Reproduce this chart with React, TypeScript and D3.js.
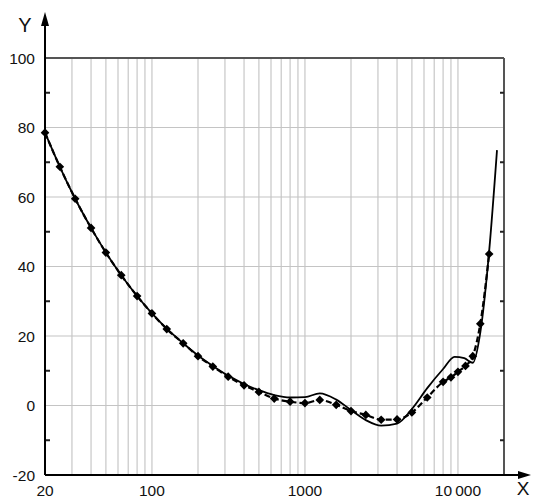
import React from "react";
import * as d3 from "d3";

// solid curve: frequency (Hz) and level
const solidFreq = [20, 25, 31.5, 40, 50, 63, 80, 100, 125, 160, 200, 250, 315, 400, 500, 630, 800, 1000, 1250, 1600, 2000, 2500, 3150, 4000, 5000, 6300, 8000, 9500, 11000, 12500, 14000, 16000, 18000];
const solidVal = [78.5, 68.7, 59.5, 51.1, 44.0, 37.5, 31.5, 26.5, 22.1, 17.9, 14.4, 11.4, 8.6, 6.2, 4.4, 3.0, 2.3, 2.4, 3.5, 1.7, -1.3, -4.2, -5.8, -5.2, -1.0, 5.0, 10.5, 14.0, 13.6, 12.3, 21, 44.5, 73.5];

// dashed curve with diamond markers
const markFreq = [20, 25, 31.5, 40, 50, 63, 80, 100, 125, 160, 200, 250, 315, 400, 500, 630, 800, 1000, 1250, 1600, 2000, 2500, 3150, 4000, 5000, 6300, 8000, 9000, 10000, 11200, 12500, 14000, 16000];
const markVal = [78.5, 68.7, 59.5, 51.1, 44.0, 37.5, 31.5, 26.5, 22.0, 17.9, 14.2, 11.2, 8.3, 5.8, 3.9, 2.0, 1.1, 0.7, 1.6, 0.2, -1.6, -2.7, -4.1, -4.0, -2.0, 2.3, 6.8, 8.1, 9.7, 11.4, 14.2, 23.5, 43.6];

const yTicks = [-20, 0, 20, 40, 60, 80, 100];
const yMinor = [-10, 10, 30, 50, 70, 90];
const xTicks = [20, 100, 1000, 10000];
const xTickLabels = ["20", "100", "1000", "10\u2009000"];
const gridFreq = [30, 40, 50, 60, 70, 80, 90, 100, 200, 300, 400, 500, 600, 700, 800, 900, 1000, 2000, 3000, 4000, 5000, 6000, 7000, 8000, 9000, 10000];

export default function App() {
  const width = 536,
    height = 500;
  const left = 45,
    right = 504,
    top = 58,
    bottom = 475;

  const x = d3.scaleLog().domain([20, 20000]).range([left, right]);
  const y = d3.scaleLinear().domain([-20, 100]).range([bottom, top]);

  const line = d3
    .line<[number, number]>()
    .x(d => x(d[0]))
    .y(d => y(d[1]))
    .curve(d3.curveMonotoneX);

  const solid = solidFreq.map((f, i) => [f, solidVal[i]] as [number, number]);
  const marks = markFreq.map((f, i) => [f, markVal[i]] as [number, number]);
  const diamond = d3.symbol().type(d3.symbolDiamond2).size(48)();

  const font = "Arial, 'Liberation Sans', sans-serif";

  return (
    <svg
      width={width}
      height={height}
      style={{ position: "absolute", left: 0, top: 0, background: "#fff" }}
      fontFamily={font}
    >
      {/* vertical grid */}
      {gridFreq.map(f => (
        <line key={"g" + f} x1={x(f)} x2={x(f)} y1={top} y2={bottom} stroke="#cfcfcf" strokeWidth={1.4} />
      ))}
      {/* horizontal grid */}
      {yTicks.filter(v => v > -20 && v < 100).map(v => (
        <line key={"h" + v} x1={left} x2={right} y1={y(v)} y2={y(v)} stroke="#c4c4c4" strokeWidth={1.2} />
      ))}
      {/* top & right borders */}
      <line x1={left} x2={right} y1={y(100)} y2={y(100)} stroke="#555" strokeWidth={2} />
      <line x1={right} x2={right} y1={top} y2={bottom} stroke="#555" strokeWidth={2} />
      {/* minor ticks */}
      {yMinor.map(v => (
        <g key={"m" + v}>
          <line x1={left} x2={left + 5} y1={y(v)} y2={y(v)} stroke="#222" strokeWidth={2} />
          <line x1={right - 4} x2={right} y1={y(v)} y2={y(v)} stroke="#222" strokeWidth={2} />
        </g>
      ))}

      {/* curves */}
      <path d={line(solid) || ""} fill="none" stroke="#000" strokeWidth={1.8} />
      <path d={line(marks) || ""} fill="none" stroke="#000" strokeWidth={2.2} strokeDasharray="6,3" />
      {marks.map((d, i) => (
        <path key={"d" + i} d={diamond || ""} transform={`translate(${x(d[0])},${y(d[1])})`} fill="#000" />
      ))}

      {/* axes */}
      <line x1={left} x2={left} y1={bottom} y2={20} stroke="#000" strokeWidth={2} />
      <path d={`M${left},12 L${left - 4},26 L${left + 4},26 Z`} fill="#000" />
      <line x1={left} x2={524} y1={bottom} y2={bottom} stroke="#000" strokeWidth={2} />
      <path d={`M531,${bottom} L518,${bottom - 4} L518,${bottom + 4} Z`} fill="#000" />

      {/* tick labels */}
      {yTicks.map(v => (
        <text key={"yl" + v} x={35} y={y(v) + 5.5} textAnchor="end" fontSize={15.5} fill="#111">
          {v}
        </text>
      ))}
      {xTicks.map((v, i) => (
        <text key={"xl" + v} x={x(v)} y={496} textAnchor="middle" fontSize={15.5} fill="#111">
          {xTickLabels[i]}
        </text>
      ))}
      <text x={25} y={32} textAnchor="middle" fontSize={20} fill="#111">Y</text>
      <text x={523} y={495} textAnchor="middle" fontSize={19} fill="#111">X</text>
    </svg>
  );
}
